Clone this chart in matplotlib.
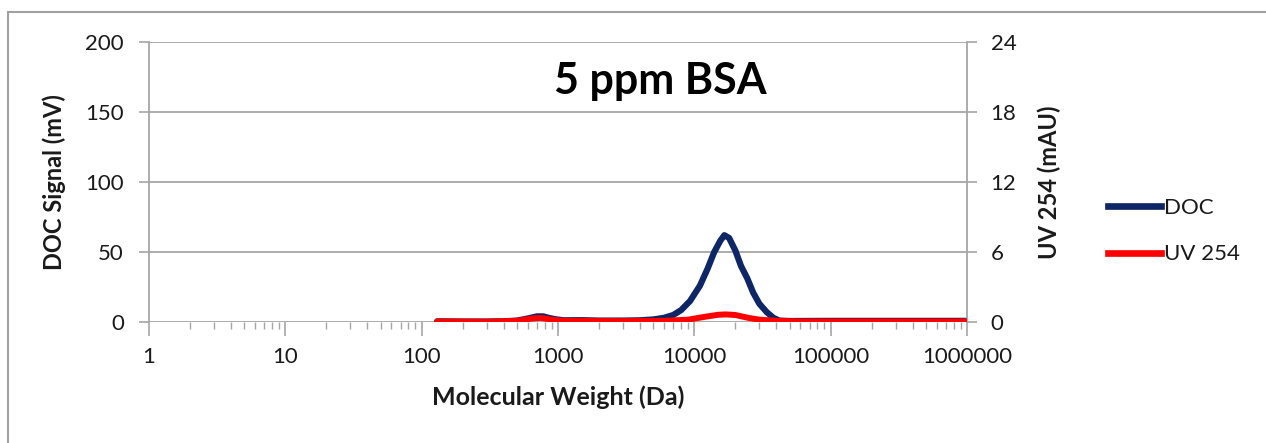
import matplotlib
matplotlib.use("Agg")
import matplotlib.pyplot as plt
from matplotlib.ticker import FixedLocator, NullFormatter, LogLocator
from matplotlib.patches import Rectangle
from matplotlib.lines import Line2D

plt.rcParams['font.family'] = ['Lato', 'DejaVu Sans']

# Data
doc_mw = [130, 200, 300, 400, 500, 600, 700, 780, 850, 950, 1100, 1500, 2000, 3000,
          4000, 5000, 6000, 7000, 8000, 9300, 11000, 12500, 14000, 15500, 16600,
          18000, 20000, 22000, 24500, 27000, 30000, 34000, 38000, 42000, 50000,
          100000, 200000, 500000, 1000000]
doc_mv = [0.5, 0.3, 0.3, 0.5, 1.0, 2.5, 4.0, 4.0, 3.0, 2.0, 1.2, 1.3, 1.0, 1.0,
          1.2, 1.8, 3.0, 5.0, 8.5, 15, 26, 38, 50, 58, 62,
          60, 51, 40, 31, 21, 13, 7, 3, 1.0, 0.7,
          0.8, 0.8, 0.8, 0.8]

uv_mw = [130, 300, 500, 650, 750, 900, 1100, 3000, 6000, 9000, 12000, 15000,
         17000, 20000, 25000, 30000, 40000, 60000, 1000000]
uv_mau = [0.05, 0.03, 0.10, 0.30, 0.35, 0.20, 0.10, 0.08, 0.10, 0.20, 0.45, 0.62,
          0.65, 0.60, 0.35, 0.20, 0.10, 0.05, 0.05]

x_ticks = [1, 10, 100, 1000, 10000, 100000, 1000000]
x_labels = ['1', '10', '100', '1000', '10000', '100000', '1000000']
left_ticks = [0, 50, 100, 150, 200]
right_ticks = [0, 6, 12, 18, 24]

doc_color = '#0E2566'
uv_color = '#FF0000'
grid_color = '#A6A6A6'
text_color = '#1A1A1A'

fig = plt.figure(figsize=(12.66, 4.43), dpi=100)
fig.patches.append(Rectangle((8/1266, -0.1), 1.2, 1 - 12/443 + 0.1, transform=fig.transFigure,
                             fill=False, edgecolor='#A0A0A0', linewidth=1.5))

ax = fig.add_axes([149/1266, 1 - 322/443, (967 - 149)/1266, (322 - 42)/443])
ax2 = ax.twinx()

ax.set_xscale('log')
ax.set_xlim(1, 1e6)
ax.set_ylim(0, 200)
ax2.set_ylim(0, 24)

for y in left_ticks:
    ax.axhline(y, color=grid_color, linewidth=1.3, zorder=0)

ax.plot(doc_mw, doc_mv, color=doc_color, linewidth=4.5, solid_capstyle='round',
        solid_joinstyle='round', zorder=3)
ax2.plot(uv_mw, uv_mau, color=uv_color, linewidth=4.3, solid_capstyle='round',
         solid_joinstyle='round', zorder=3)

ax.xaxis.set_major_locator(FixedLocator(x_ticks))
ax.set_xticklabels(x_labels)
ax.xaxis.set_minor_locator(LogLocator(base=10, subs=range(2, 10), numticks=20))
ax.xaxis.set_minor_formatter(NullFormatter())
ax.set_yticks(left_ticks)
ax2.set_yticks(right_ticks)

for a in (ax, ax2):
    for s in a.spines.values():
        s.set_visible(False)
ax.spines['left'].set_visible(True)
ax.spines['left'].set_color(grid_color)
ax.spines['left'].set_linewidth(1.3)
ax2.spines['right'].set_visible(True)
ax2.spines['right'].set_color(grid_color)
ax2.spines['right'].set_linewidth(1.3)

ax.tick_params(axis='x', which='major', length=10, width=1.2, color=grid_color,
               labelsize=16, labelcolor=text_color, pad=8)
ax.tick_params(axis='x', which='minor', length=5, width=1.0, color=grid_color)
ax.tick_params(axis='y', length=7, width=1.2, color=grid_color, labelsize=16,
               labelcolor=text_color, pad=11)
ax2.tick_params(axis='y', length=7, width=1.2, color=grid_color, labelsize=16,
                labelcolor=text_color, pad=10)

ax.set_xlabel('Molecular Weight (Da)', fontsize=18, fontweight='bold', color=text_color, labelpad=13)
ax.set_ylabel('DOC Signal (mV)', fontsize=17, fontweight='bold', color=text_color, labelpad=14)
ax2.set_ylabel('UV 254 (mAU)', fontsize=17, fontweight='bold', color=text_color, labelpad=15)

ax.text(0.625, 0.86, '5 ppm BSA', transform=ax.transAxes, fontsize=31, fontweight='bold',
        ha='center', va='center', color='black')

handles = [Line2D([], [], color=doc_color, linewidth=4.8),
           Line2D([], [], color=uv_color, linewidth=4.8)]
fig.legend(handles, ['DOC', 'UV 254'], loc='center left',
           bbox_to_anchor=(1088/1266, 1 - 231/443), frameon=False, fontsize=16,
           handlelength=2.4, handletextpad=0.1, labelspacing=1.2, labelcolor=text_color)

fig.savefig('out.png', dpi=100)
